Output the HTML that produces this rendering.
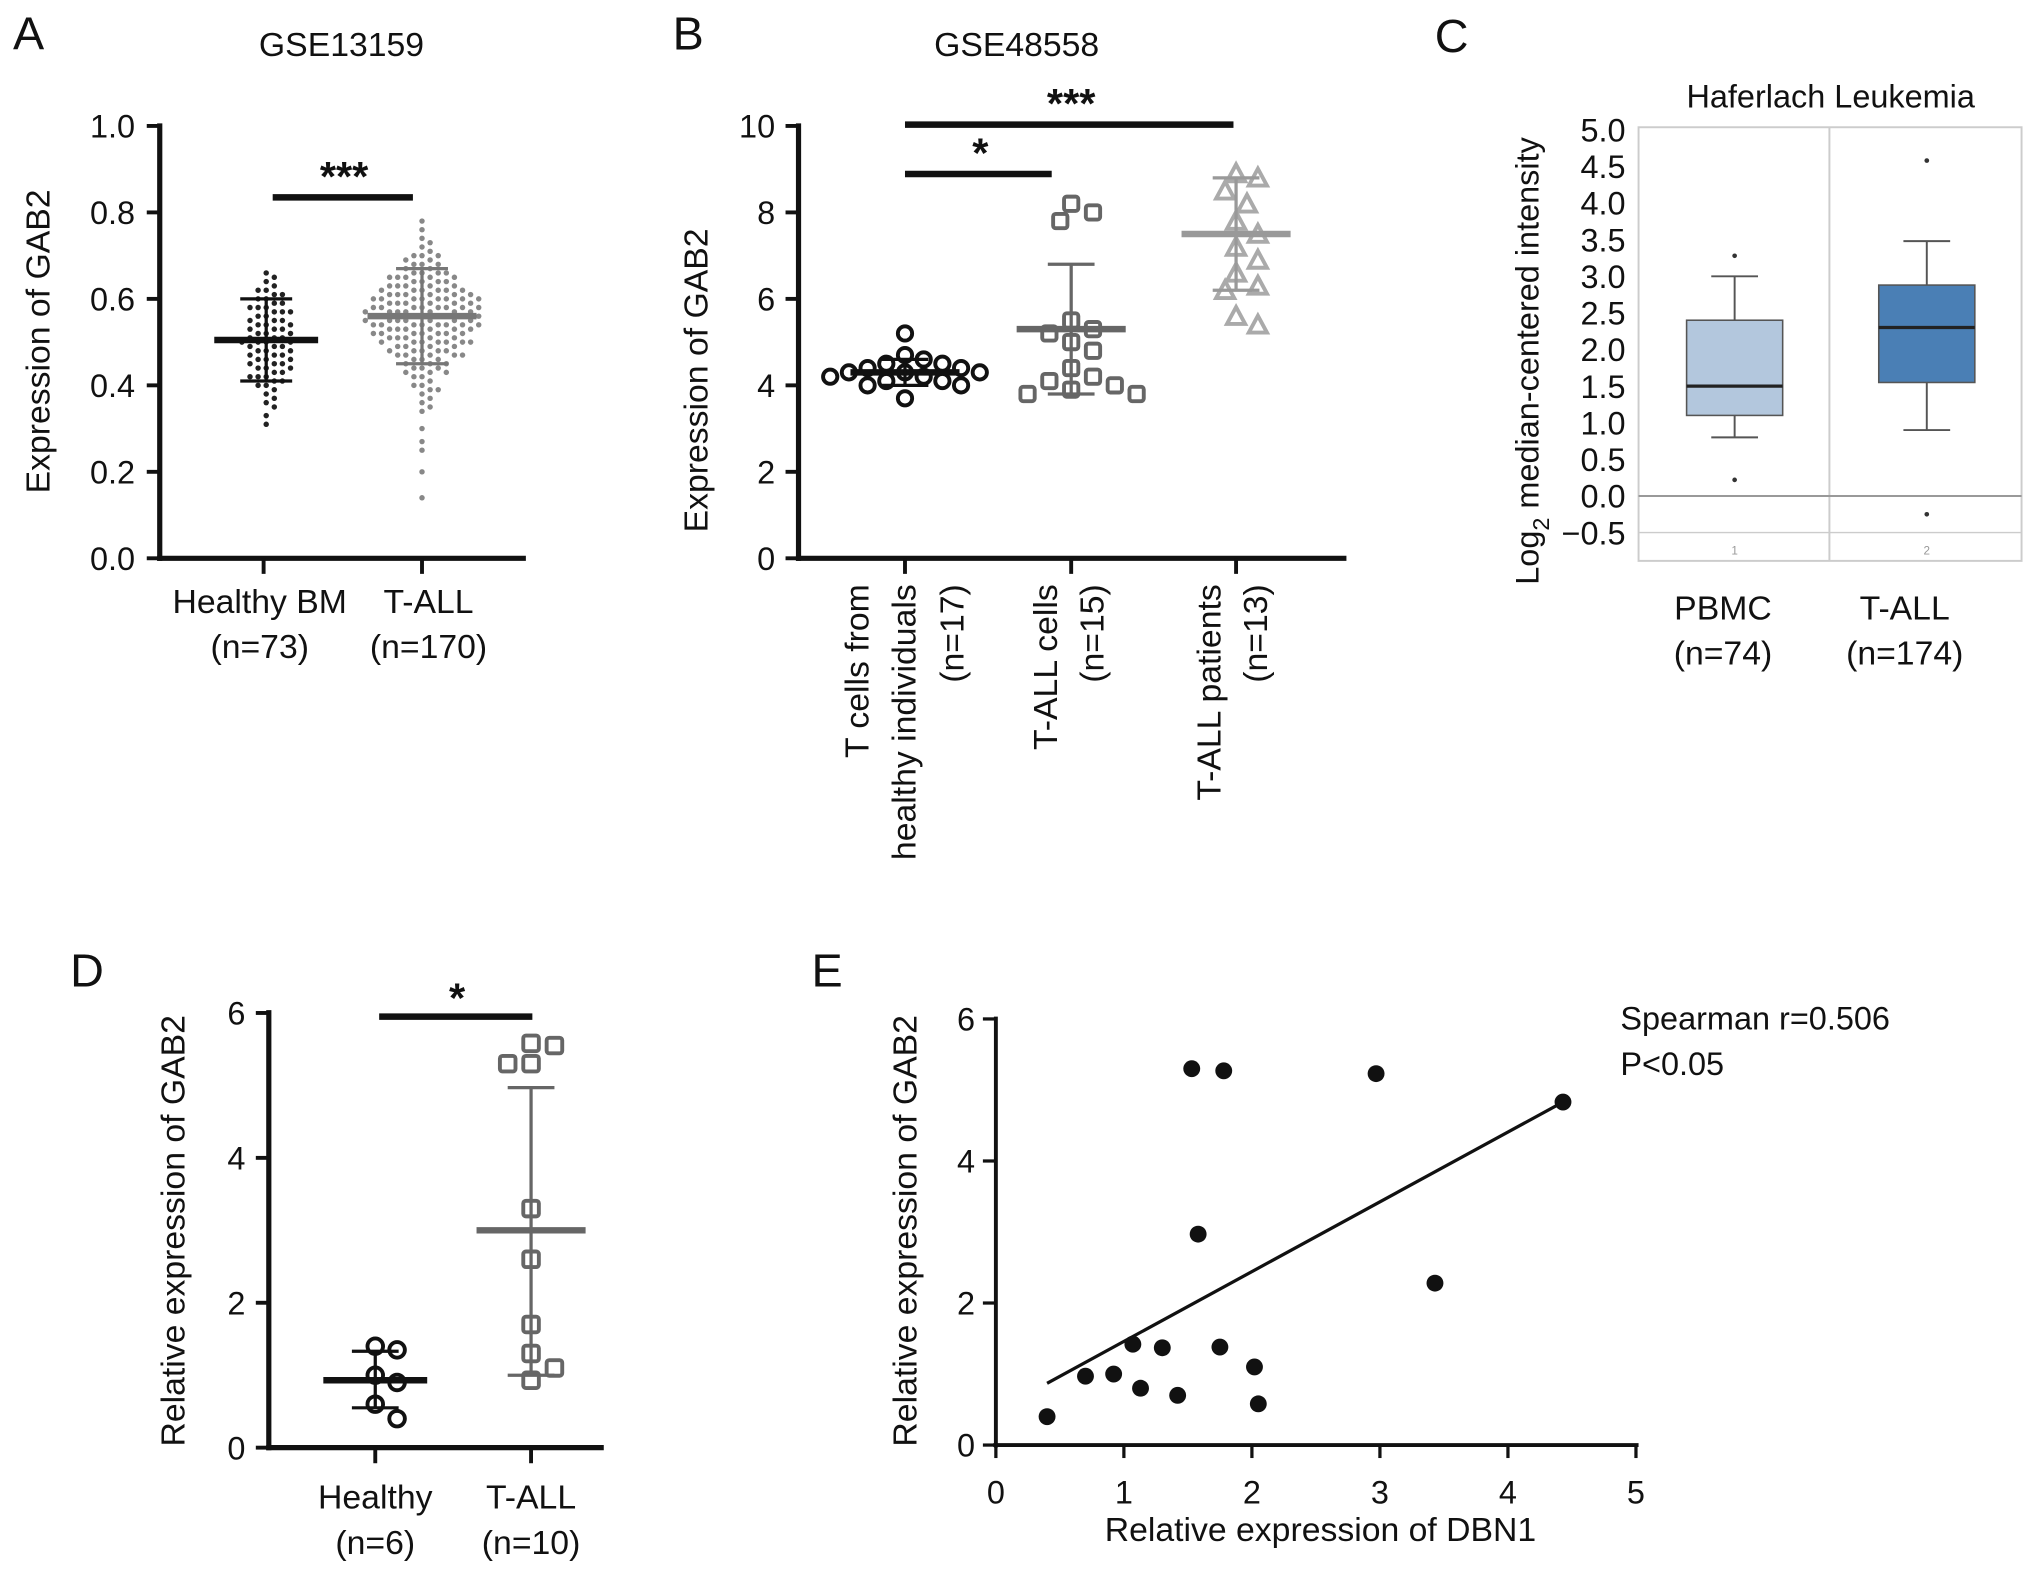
<!DOCTYPE html>
<html><head><meta charset="utf-8"><style>
html,body{margin:0;padding:0;background:#fff;}
svg{display:block;font-family:"Liberation Sans",sans-serif;}
</style></head><body>
<svg id="fig" width="2032" height="1571" viewBox="0 0 1565 1210" xmlns="http://www.w3.org/2000/svg"></svg>
<script>
// ---- Panel A data ----
const aCategories=["Healthy BM","T-ALL"];
const aHealthy=[0.66,0.65,0.64,0.63,0.62,0.62,0.61,0.6,0.6,0.59,0.59,0.58,0.58,0.57,0.57,0.56,0.56,0.55,0.55,0.54,0.54,0.53,0.53,0.52,0.52,0.51,0.51,0.5,0.5,0.5,0.49,0.49,0.48,0.48,0.47,0.47,0.46,0.46,0.45,0.45,0.44,0.44,0.43,0.42,0.42,0.41,0.4,0.4,0.39,0.38,0.37,0.36,0.35,0.33,0.31,0.61,0.57,0.53,0.5,0.47,0.44,0.42,0.55,0.52,0.48,0.46,0.43,0.58,0.51,0.49,0.45,0.54,0.41];
const aTall=[0.78,0.76,0.74,0.73,0.72,0.71,0.7,0.7,0.69,0.69,0.68,0.68,0.67,0.67,0.66,0.66,0.65,0.65,0.65,0.64,0.64,0.63,0.63,0.63,0.62,0.62,0.62,0.61,0.61,0.61,0.6,0.6,0.6,0.6,0.59,0.59,0.59,0.58,0.58,0.58,0.58,0.57,0.57,0.57,0.56,0.56,0.56,0.56,0.55,0.55,0.55,0.54,0.54,0.54,0.53,0.53,0.53,0.52,0.52,0.52,0.51,0.51,0.5,0.5,0.5,0.49,0.49,0.48,0.48,0.47,0.47,0.46,0.45,0.45,0.44,0.43,0.42,0.41,0.4,0.39,0.38,0.36,0.34,0.3,0.27,0.25,0.2,0.14,0.62,0.6,0.58,0.56,0.54,0.52,0.5,0.48,0.46,0.64,0.61,0.59,0.57,0.55,0.53,0.51,0.49,0.47,0.44,0.66,0.63,0.6,0.57,0.55,0.52,0.5,0.47,0.43,0.68,0.65,0.62,0.59,0.56,0.54,0.51,0.48,0.46,0.42,0.7,0.61,0.58,0.55,0.53,0.5,0.45,0.4,0.37,0.6,0.57,0.54,0.52,0.49,0.64,0.59,0.56,0.53,0.62,0.58,0.55,0.51,0.48,0.44,0.39,0.35,0.66,0.63,0.57,0.54,0.5,0.47,0.43,0.6,0.56,0.52,0.58,0.54,0.61,0.65];
const aMean=[0.505,0.56], aSdLo=[0.41,0.45], aSdHi=[0.60,0.67];
const aTicks=["0.0","0.2","0.4","0.6","0.8","1.0"];
// ---- Panel B data ----
const bG1=[5.2,4.7,4.6,4.5,4.5,4.4,4.4,4.3,4.3,4.3,4.2,4.2,4.1,4.1,4.0,4.0,3.7];
const bG2=[8.2,8.0,7.8,5.5,5.3,5.2,5.0,4.8,4.4,4.2,4.1,4.0,3.9,3.8,3.8];
const bG3=[8.9,8.8,8.5,8.2,7.8,7.5,7.2,6.9,6.6,6.3,6.2,5.6,5.4];
const bMean=[4.3,5.3,7.5], bSdLo=[4.0,3.8,6.2], bSdHi=[4.6,6.8,8.8];
const bTicks=[0,2,4,6,8,10];
// ---- Panel C data ----
const cCats=["PBMC","T-ALL"];
const cQ1=[1.1,1.55], cMed=[1.5,2.3], cQ3=[2.4,2.88], cWlo=[0.8,0.9], cWhi=[3.0,3.48];
const cOutHi=[3.28,4.58], cOutLo=[0.22,-0.25];
const cTicks=[5.0,4.5,4.0,3.5,3.0,2.5,2.0,1.5,1.0,0.5,0.0,-0.5];
// ---- Panel D data ----
const dHealthy=[1.4,1.35,1.0,0.9,0.6,0.4];
const dTall=[5.58,5.55,5.3,5.3,3.3,2.6,1.7,1.3,1.1,0.93];
const dMean=[0.93,3.0], dSdLo=[0.55,1.0], dSdHi=[1.33,4.97];
const dTicks=[0,2,4,6];
// ---- Panel E data ----
const eX=[0.4,0.7,0.92,1.07,1.13,1.3,1.42,1.53,1.58,1.78,1.75,2.02,2.05,2.97,3.43,4.43];
const eY=[0.4,0.97,1.0,1.42,0.8,1.37,0.7,5.3,2.97,5.27,1.38,1.1,0.58,5.23,2.28,4.83];
const eFitX=[0.4,4.43], eFitY=[0.87,4.83];
const eXTicks=[0,1,2,3,4,5], eYTicks=[0,2,4,6];

const svg=document.getElementById('fig');
const NS="http://www.w3.org/2000/svg";
function mk(tag,attrs,name,parent){const e=document.createElementNS(NS,tag);for(const k in attrs)e.setAttribute(k,attrs[k]);


(parent||svg).appendChild(e);return e;}
function txt(x,y,s,size,name,anchor,extra){const t=mk('text',Object.assign({x:x,y:y,'font-size':size,'text-anchor':anchor||'middle',fill:'#111'},extra||{}),name);t.textContent=s;return t;}
function line(x1,y1,x2,y2,w,c,name){return mk('line',{x1:x1,y1:y1,x2:x2,y2:y2,stroke:c||'#111','stroke-width':w||3},name);}
function swarm(vals,cx,ys,d,draw){const placed=[];vals.map(v=>ys(v)).sort((a,b)=>a-b).forEach(y=>{
  for(let k=0;k<200;k++){const off=(k%2?1:-1)*Math.ceil(k/2)*d*0.6;const x=cx+off;
   if(placed.every(p=>(p[0]-x)**2+(p[1]-y)**2>=d*d)){placed.push([x,y]);draw(x,y);return;}}});}
function errbar(cx,mean,lo,hi,ys,hw,sw,c,nm){line(cx-hw,ys(mean),cx+hw,ys(mean),5,c,nm+'-mean');line(cx,ys(lo),cx,ys(hi),2.5,c,nm+'-sd');line(cx-sw,ys(lo),cx+sw,ys(lo),2.5,c,nm+'-sd-low');line(cx-sw,ys(hi),cx+sw,ys(hi),2.5,c,nm+'-sd-high');}

// ===== Panel A =====
txt(22,38,"A",36,"panel-a-letter");
txt(263,43,"GSE13159",26,"panel-a-title");
const aY=v=>430-v*333;
line(123,95,123,432,4,'#111','a-y-axis');line(121,430,405,430,4,'#111','a-x-axis');
aTicks.forEach(t=>{line(113,aY(+t),123,aY(+t),3,'#111','a-y-tick');txt(104,aY(+t)+9,t,25,'a-y-tick-label','end');});
[203,325].forEach((x,i)=>{line(x,430,x,442,3,'#111','a-x-tick');});
txt(38,263,"Expression of GAB2",26,"a-y-axis-title",'middle',{transform:'rotate(-90 38 263)'});
txt(200,472,"Healthy BM",26,"a-x-label-healthy");txt(200,507,"(n=73)",26,"a-x-label-healthy-n");
txt(330,472,"T-ALL",26,"a-x-label-tall");txt(330,507,"(n=170)",26,"a-x-label-tall-n");
swarm(aHealthy,205,aY,5.2,(x,y)=>mk('circle',{cx:x,cy:y,r:2.1,fill:'#222'},'a-healthy-point'));
swarm(aTall,325,aY,5.2,(x,y)=>mk('circle',{cx:x,cy:y,r:2.1,fill:'#888'},'a-tall-point'));
errbar(205,aMean[0],aSdLo[0],aSdHi[0],aY,40,20,'#111','a-healthy');
errbar(325,aMean[1],aSdLo[1],aSdHi[1],aY,42,20,'#777','a-tall');
line(210,152,318,152,5,'#111','a-sig-bar');txt(265,147,"***",32,"a-sig-stars",'middle',{'font-weight':'bold'});

// ===== Panel B =====
txt(530,38,"B",36,"panel-b-letter");
txt(783,43,"GSE48558",26,"panel-b-title");
const bY=v=>430-v*33.3;
line(615,95,615,432,4,'#111','b-y-axis');line(613,430,1037,430,4,'#111','b-x-axis');
bTicks.forEach(t=>{line(605,bY(t),615,bY(t),3,'#111','b-y-tick');txt(597,bY(t)+9,String(t),25,'b-y-tick-label','end');});
[697,825,952].forEach(x=>line(x,430,x,442,3,'#111','b-x-tick'));
txt(545,293,"Expression of GAB2",26,"b-y-axis-title",'middle',{transform:'rotate(-90 545 293)'});
[["T cells from",669],["healthy individuals",705],["(n=17)",742],["T-ALL cells",814],["(n=15)",850],["T-ALL patients",940],["(n=13)",976]].forEach(([s,x])=>txt(x,450,s,26,'b-x-label','end',{transform:`rotate(-90 ${x} 450)`}));
swarm(bG1,697,bY,12,(x,y)=>mk('circle',{cx:x,cy:y,r:5.5,fill:'none',stroke:'#111','stroke-width':3},'b-healthy-point'));
swarm(bG2,825,bY,14,(x,y)=>mk('rect',{x:x-5.5,y:y-5.5,width:11,height:11,rx:2,fill:'none',stroke:'#666','stroke-width':3},'b-tall-cells-point'));
swarm(bG3,952,bY,14,(x,y)=>mk('polygon',{points:`${x},${y-7} ${x+7},${y+6} ${x-7},${y+6}`,fill:'none',stroke:'#aaa','stroke-width':3},'b-tall-patients-point'));
errbar(697,bMean[0],bSdLo[0],bSdHi[0],bY,42,18,'#111','b-healthy');
errbar(825,bMean[1],bSdLo[1],bSdHi[1],bY,42,18,'#666','b-tall-cells');
errbar(952,bMean[2],bSdLo[2],bSdHi[2],bY,42,18,'#999','b-tall-patients');
line(697,96,950,96,5,'#111','b-sig-bar-1');txt(825,91,"***",32,"b-sig-stars-1",'middle',{'font-weight':'bold'});
line(697,134,810,134,5,'#111','b-sig-bar-2');txt(755,129,"*",32,"b-sig-stars-2",'middle',{'font-weight':'bold'});

// ===== Panel C =====
txt(1118,40,"C",36,"panel-c-letter");
txt(1410,83,"Haferlach Leukemia",25,"panel-c-title");
const cY=v=>382-v*56.4;
mk('rect',{x:1262,y:98,width:295,height:334,fill:'none',stroke:'#ccc','stroke-width':1.5},'c-plot-frame');
line(1409,98,1409,432,1.5,'#ccc','c-divider');
line(1262,cY(0),1557,cY(0),1.5,'#999','c-zero-line');
line(1262,cY(-0.5),1557,cY(-0.5),1,'#ccc','c-neg-line');
cTicks.forEach(t=>txt(1252,cY(t)+9,t.toFixed(1).replace('-','\u2212'),25,'c-y-tick-label','end'));
txt(1185,278,"",25,"c-y-axis-title",'middle',{transform:'rotate(-90 1185 278)'}).innerHTML='Log<tspan dy="8" font-size="18">2</tspan><tspan dy="-8"> median-centered intensity</tspan>';
const cX=[1336,1484], cFill=['#b3c7dd','#4a7fb5'];
cCats.forEach((c,i)=>{const x=cX[i];
 line(x,cY(cWhi[i]),x,cY(cQ3[i]),1.5,'#555','c-whisker-high');line(x,cY(cQ1[i]),x,cY(cWlo[i]),1.5,'#555','c-whisker-low');
 line(x-18,cY(cWhi[i]),x+18,cY(cWhi[i]),1.5,'#555','c-whisker-cap');line(x-18,cY(cWlo[i]),x+18,cY(cWlo[i]),1.5,'#555','c-whisker-cap');
 mk('rect',{x:x-37,y:cY(cQ3[i]),width:74,height:cY(cQ1[i])-cY(cQ3[i]),fill:cFill[i],stroke:'#555','stroke-width':1.2},'c-box-'+c.toLowerCase());
 line(x-37,cY(cMed[i]),x+37,cY(cMed[i]),2.5,'#222','c-median');
 mk('circle',{cx:x,cy:cY(cOutHi[i]),r:1.8,fill:'#333'},'c-outlier');mk('circle',{cx:x,cy:cY(cOutLo[i]),r:1.8,fill:'#333'},'c-outlier');
 txt(x,427,i?"2":"1",9,'c-box-index','middle',{fill:'#999'});
});
txt(1327,477,"PBMC",26,"c-x-label-pbmc");txt(1327,512,"(n=74)",26,"c-x-label-pbmc-n");
txt(1467,477,"T-ALL",26,"c-x-label-tall");txt(1467,512,"(n=174)",26,"c-x-label-tall-n");

// ===== Panel D =====
txt(67,760,"D",36,"panel-d-letter");
const dY=v=>1115-v*55.8;
line(207,778,207,1117,4,'#111','d-y-axis');line(205,1115,465,1115,4,'#111','d-x-axis');
dTicks.forEach(t=>{line(197,dY(t),207,dY(t),3,'#111','d-y-tick');txt(189,dY(t)+9,String(t),25,'d-y-tick-label','end');});
[289,409].forEach(x=>line(x,1115,x,1127,3,'#111','d-x-tick'));
txt(142,948,"Relative expression of GAB2",26,"d-y-axis-title",'middle',{transform:'rotate(-90 142 948)'});
txt(289,1162,"Healthy",26,"d-x-label-healthy");txt(289,1197,"(n=6)",26,"d-x-label-healthy-n");
txt(409,1162,"T-ALL",26,"d-x-label-tall");txt(409,1197,"(n=10)",26,"d-x-label-tall-n");
swarm(dHealthy,289,dY,14,(x,y)=>mk('circle',{cx:x,cy:y,r:6,fill:'none',stroke:'#111','stroke-width':3},'d-healthy-point'));
swarm(dTall,409,dY,15,(x,y)=>mk('rect',{x:x-6,y:y-6,width:12,height:12,rx:2,fill:'none',stroke:'#666','stroke-width':3},'d-tall-point'));
errbar(289,dMean[0],dSdLo[0],dSdHi[0],dY,40,18,'#111','d-healthy');
errbar(409,dMean[1],dSdLo[1],dSdHi[1],dY,42,18,'#666','d-tall');
line(292,783,410,783,5,'#111','d-sig-bar');txt(352,780,"*",32,"d-sig-stars",'middle',{'font-weight':'bold'});

// ===== Panel E =====
txt(637,760,"E",36,"panel-e-letter");
const eXs=v=>767+v*98.6, eYs=v=>1113-v*54.7;
line(767,783,767,1115,3,'#111','e-y-axis');line(765,1113,1262,1113,3,'#111','e-x-axis');
eYTicks.forEach(t=>{line(757,eYs(t),767,eYs(t),2.5,'#111','e-y-tick');txt(751,eYs(t)+9,String(t),25,'e-y-tick-label','end');});
eXTicks.forEach(t=>{line(eXs(t),1113,eXs(t),1123,2.5,'#111','e-x-tick');txt(eXs(t),1158,String(t),25,'e-x-tick-label');});
txt(706,948,"Relative expression of GAB2",26,"e-y-axis-title",'middle',{transform:'rotate(-90 706 948)'});
txt(1017,1187,"Relative expression of DBN1",26,"e-x-axis-title");
line(eXs(eFitX[0]),eYs(eFitY[0]),eXs(eFitX[1]),eYs(eFitY[1]),2.5,'#111','e-regression-line');
eX.forEach((v,i)=>mk('circle',{cx:eXs(v),cy:eYs(eY[i]),r:6.5,fill:'#111'},'e-point'));
txt(1248,793,"Spearman r=0.506",25,"e-spearman-label",'start');
txt(1248,828,"P<0.05",25,"e-p-value-label",'start');
</script>
</body></html>
